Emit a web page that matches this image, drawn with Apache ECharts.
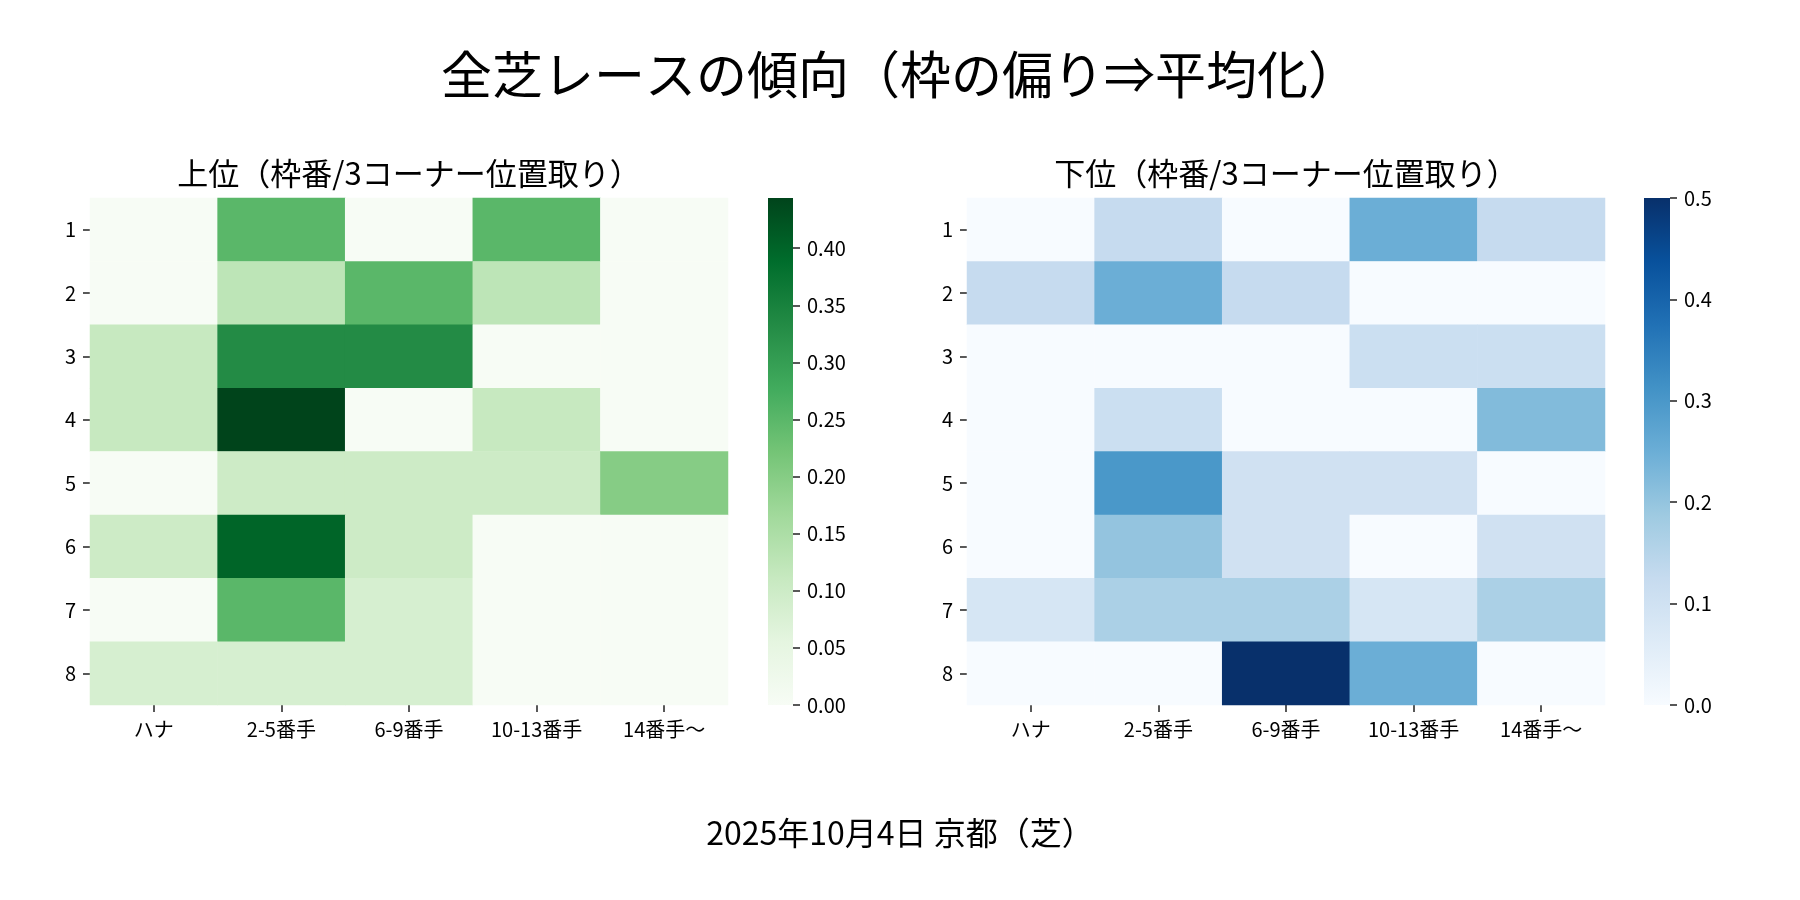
<!DOCTYPE html>
<html>
<head>
<meta charset="utf-8">
<script src="https://cdn.jsdelivr.net/npm/echarts@6/dist/echarts.min.js"></script>
<style>
  html, body { margin: 0; padding: 0; background: #fff; }
  #main { width: 1800px; height: 900px; }
</style>
</head>
<body>
<div id="main"></div>
<script>
// 3コーナー位置取り（列）と枠番（行）
var positions = ['ハナ', '2-5番手', '6-9番手', '10-13番手', '14番手～'];
var gates = ['1', '2', '3', '4', '5', '6', '7', '8'];

// 上位：枠番ごとの位置取り割合
var topValues = [
  [0.000, 0.250, 0.000, 0.250, 0.000],
  [0.000, 0.125, 0.250, 0.125, 0.000],
  [0.111, 0.333, 0.333, 0.000, 0.000],
  [0.111, 0.444, 0.000, 0.111, 0.000],
  [0.000, 0.100, 0.100, 0.100, 0.200],
  [0.100, 0.400, 0.100, 0.000, 0.000],
  [0.000, 0.250, 0.083, 0.000, 0.000],
  [0.083, 0.083, 0.083, 0.000, 0.000]
];

// 下位
var bottomValues = [
  [0.000, 0.125, 0.000, 0.250, 0.125],
  [0.125, 0.250, 0.125, 0.000, 0.000],
  [0.000, 0.000, 0.000, 0.111, 0.111],
  [0.000, 0.111, 0.000, 0.000, 0.222],
  [0.000, 0.300, 0.100, 0.100, 0.000],
  [0.000, 0.200, 0.100, 0.000, 0.100],
  [0.083, 0.167, 0.167, 0.083, 0.167],
  [0.000, 0.000, 0.500, 0.250, 0.000]
];

// カラーバーの目盛り
var topTicks = [0, 0.05, 0.10, 0.15, 0.20, 0.25, 0.30, 0.35, 0.40];
var bottomTicks = [0, 0.1, 0.2, 0.3, 0.4, 0.5];

// matplotlib Greens / Blues
var greens = ['#f7fcf5', '#e5f5e0', '#c7e9c0', '#a1d99b', '#74c476', '#41ab5d', '#238b45', '#006d2c', '#00441b'];
var blues = ['#f7fbff', '#deebf7', '#c6dbef', '#9ecae1', '#6baed6', '#4292c6', '#2171b5', '#08519c', '#08306b'];

var FONT = '"Noto Sans CJK JP", "Noto Sans", sans-serif';

function toCells(rows) {
  var out = [];
  rows.forEach(function (row, y) {
    row.forEach(function (v, x) { out.push([x, y, v]); });
  });
  return out;
}
function maxOf(rows) {
  return Math.max.apply(null, rows.map(function (r) { return Math.max.apply(null, r); }));
}

var topMax = maxOf(topValues);
var bottomMax = maxOf(bottomValues);

var tickStyle = { show: true, length: 7, lineStyle: { color: '#222', width: 1.5 } };
var labelStyle = { color: '#000', fontSize: 20, fontFamily: FONT, margin: 14 };

function catX(grid) {
  return {
    gridIndex: grid, type: 'category', data: positions,
    axisLine: { show: false },
    axisTick: Object.assign({ alignWithLabel: true }, tickStyle),
    axisLabel: labelStyle,
    splitLine: { show: false }
  };
}
function catY(grid) {
  return {
    gridIndex: grid, type: 'category', data: gates, inverse: true,
    axisLine: { show: false },
    axisTick: Object.assign({ alignWithLabel: true }, tickStyle),
    axisLabel: labelStyle,
    splitLine: { show: false }
  };
}
function barX(grid) {
  return { gridIndex: grid, type: 'category', data: ['cb'], show: false };
}
function barY(grid, max, ticks, digits) {
  return {
    gridIndex: grid, type: 'value', position: 'right',
    min: 0, max: max,
    axisLine: { show: false },
    axisTick: Object.assign({ customValues: ticks }, tickStyle),
    axisLabel: Object.assign({}, labelStyle, {
      customValues: ticks,
      formatter: function (v) { return Number(v).toFixed(digits); }
    }),
    splitLine: { show: false }
  };
}
// 色の対応（非表示の visualMap）
function colorMap(series, max, colors) {
  return {
    type: 'continuous', seriesIndex: series, min: 0, max: max,
    inRange: { color: colors }, show: false
  };
}
// カラーバー：グラデーションの棒を目盛り軸上に描く
function colorBar(idx, max, colors) {
  var stops = colors.map(function (c, i) {
    return { offset: i / (colors.length - 1), color: c };
  });
  return {
    type: 'bar', xAxisIndex: idx, yAxisIndex: idx,
    data: [max], barWidth: '100%', silent: true,
    itemStyle: { color: new echarts.graphic.LinearGradient(0, 1, 0, 0, stops) }
  };
}
function heat(idx, rows) {
  return {
    type: 'heatmap', xAxisIndex: idx, yAxisIndex: idx,
    data: toCells(rows),
    itemStyle: { borderWidth: 0 },
    emphasis: { disabled: true },
    silent: true
  };
}
function text(x, y, str, size) {
  return {
    type: 'text', x: x, y: y,
    style: {
      text: str, fill: '#000', fontSize: size, fontFamily: FONT,
      textAlign: 'center', textVerticalAlign: 'middle',
      align: 'center', verticalAlign: 'middle'
    }
  };
}

var chart = echarts.init(document.getElementById('main'));
chart.setOption({
  backgroundColor: '#fff',
  animation: false,
  grid: [
    { left: 90, top: 198, width: 638, height: 507 },
    { left: 967, top: 198, width: 638, height: 507 },
    { left: 768, top: 198, width: 25, height: 507 },
    { left: 1644, top: 198, width: 26, height: 507 }
  ],
  xAxis: [catX(0), catX(1), barX(2), barX(3)],
  yAxis: [catY(0), catY(1),
          barY(2, topMax, topTicks, 2),
          barY(3, bottomMax, bottomTicks, 1)],
  visualMap: [
    colorMap(0, topMax, greens),
    colorMap(1, bottomMax, blues)
  ],
  series: [
    heat(0, topValues), heat(1, bottomValues),
    colorBar(2, topMax, greens), colorBar(3, bottomMax, blues)
  ],
  graphic: [
    text(900, 75, '全芝レースの傾向（枠の偏り⇒平均化）', 51),
    text(409, 173, '上位（枠番/3コーナー位置取り）', 31),
    text(1286, 173, '下位（枠番/3コーナー位置取り）', 31),
    text(900, 833, '2025年10月4日 京都（芝）', 32)
  ]
});
</script>
</body>
</html>
